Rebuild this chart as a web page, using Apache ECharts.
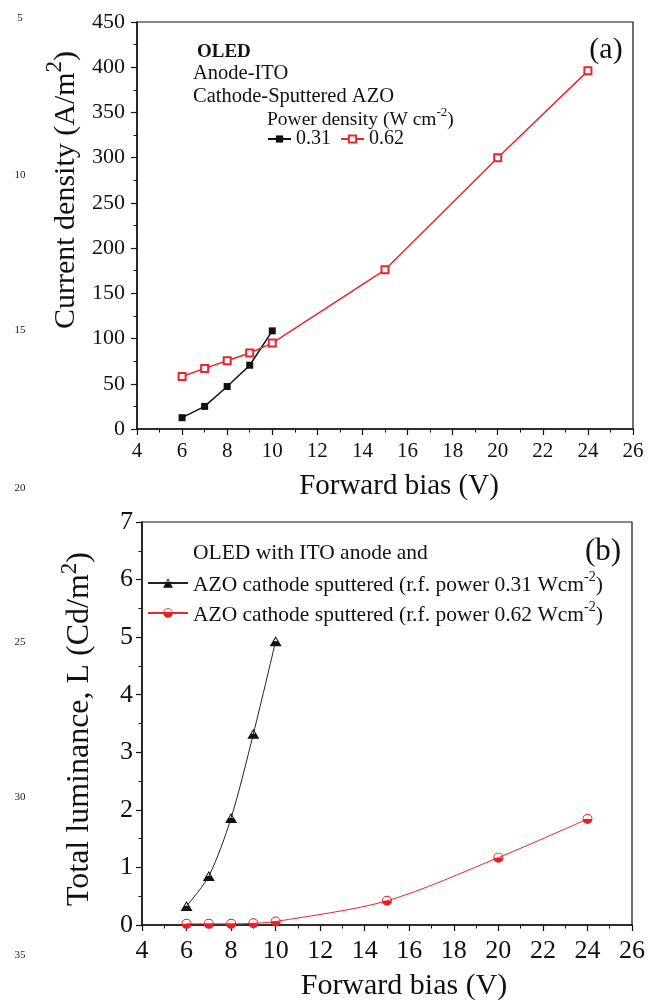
<!DOCTYPE html>
<html>
<head>
<meta charset="utf-8">
<script src="https://cdn.jsdelivr.net/npm/echarts@6/dist/echarts.min.js"></script>
<style>
  html, body { margin: 0; padding: 0; background: #ffffff; }
  #chart { width: 648px; height: 1003px; }
</style>
</head>
<body>
<div id="chart"></div>
<script>
// Forward bias (V) for each sample
const biasLow = [6, 7, 8, 9, 10];
const biasHigh = [6, 7, 8, 9, 10, 15, 20, 24];

// (a) current density, A/m^2
const currentLow = [12.5, 25, 47, 70.5, 108.5];
const currentHigh = [58, 67, 75.5, 84, 95, 176, 300, 396];

// (b) total luminance, Cd/m^2
const lumLow = [0.33, 0.85, 1.86, 3.32, 4.93];
const lumHigh = [0.02, 0.02, 0.02, 0.03, 0.06, 0.42, 1.17, 1.84];

// legend labels
const powerLabels = ['0.31', '0.62'];
const lumLabels = [
  'AZO cathode sputtered (r.f. power 0.31 Wcm-2)',
  'AZO cathode sputtered (r.f. power 0.62 Wcm-2)'
];

const zip = (xs, ys) => xs.map((x, i) => [x, ys[i]]);

const SERIF = '"Liberation Serif", "Times New Roman", serif';
const INK = '#111111';

// half-filled markers: outline with the lower half solid
const halfTriangle = 'path://M10,0 L20,18 L0,18 Z M10,3.6 L6.9,9 L13.1,9 Z';
const halfCircle = 'path://M0,10 A10,10 0 1,1 20,10 A10,10 0 1,1 0,10 Z M1.8,10 L18.2,10 A8.2,8.2 0 0,0 1.8,10 Z';

function xAxisCfg(gridIndex, fontSize, margin) {
  return {
    type: 'value', gridIndex, min: 4, max: 26, interval: 2,
    axisLine: { show: true, onZero: false, lineStyle: { color: INK, width: 1.5 } },
    axisTick: { show: true, inside: false, length: 6, lineStyle: { color: INK, width: 1.2 } },
    minorTick: { show: true, splitNumber: 2, length: 3.5, lineStyle: { color: INK, width: 1 } },
    axisLabel: { color: INK, fontFamily: SERIF, fontSize, margin },
    splitLine: { show: false }
  };
}
function yAxisCfg(gridIndex, max, interval, fontSize, margin) {
  return {
    type: 'value', gridIndex, min: 0, max, interval,
    axisLine: { show: true, lineStyle: { color: INK, width: 1.5 } },
    axisTick: { show: true, inside: false, length: 6, lineStyle: { color: INK, width: 1.2 } },
    minorTick: { show: true, splitNumber: 2, length: 3.5, lineStyle: { color: INK, width: 1 } },
    axisLabel: { color: INK, fontFamily: SERIF, fontSize, margin },
    splitLine: { show: false }
  };
}

const chart = echarts.init(document.getElementById('chart'), null, { renderer: 'canvas' });

const lineNumbers = [
  ['5', 18], ['10', 175], ['15', 330], ['20', 488], ['25', 642], ['30', 797], ['35', 955]
];

const graphics = [];
lineNumbers.forEach(([t, y]) => {
  graphics.push({
    type: 'text', x: 20, y,
    style: { text: t, font: '11px ' + SERIF, fill: '#222', textAlign: 'center', textVerticalAlign: 'middle' }
  });
});

// axis titles
graphics.push({
  type: 'text', x: 62, y: 190, rotation: Math.PI / 2,
  style: {
    text: '{t|Current density (A/m}{s|2}{t|)}',
    textAlign: 'center', textVerticalAlign: 'middle', fill: INK,
    rich: {
      t: { fontFamily: SERIF, fontSize: 30, lineHeight: 38, verticalAlign: 'bottom', fill: INK },
      s: { fontFamily: SERIF, fontSize: 23, lineHeight: 23, verticalAlign: 'top', fill: INK }
    }
  }
});
graphics.push({
  type: 'text', x: 399, y: 486,
  style: { text: 'Forward bias (V)', font: '29px ' + SERIF, fill: INK, textAlign: 'center', textVerticalAlign: 'middle' }
});
graphics.push({
  type: 'text', x: 77, y: 729, rotation: Math.PI / 2,
  style: {
    text: '{t|Total luminance, L (Cd/m}{s|2}{t|)}',
    textAlign: 'center', textVerticalAlign: 'middle', fill: INK,
    rich: {
      t: { fontFamily: SERIF, fontSize: 32, lineHeight: 38, verticalAlign: 'bottom', fill: INK },
      s: { fontFamily: SERIF, fontSize: 23, lineHeight: 23, verticalAlign: 'top', fill: INK }
    }
  }
});
graphics.push({
  type: 'text', x: 404, y: 986,
  style: { text: 'Forward bias (V)', font: '30px ' + SERIF, fill: INK, textAlign: 'center', textVerticalAlign: 'middle' }
});

// annotations inside panel (a)
graphics.push({ type: 'text', x: 197, y: 52,
  style: { text: 'OLED', font: 'bold 19px ' + SERIF, fill: INK, textVerticalAlign: 'middle' } });
graphics.push({ type: 'text', x: 193, y: 74,
  style: { text: 'Anode-ITO', font: '20.5px ' + SERIF, fill: INK, textVerticalAlign: 'middle' } });
graphics.push({ type: 'text', x: 193, y: 97,
  style: { text: 'Cathode-Sputtered AZO', font: '20.5px ' + SERIF, fill: INK, textVerticalAlign: 'middle' } });
graphics.push({ type: 'text', x: 267, y: 118,
  style: {
    text: '{t|Power density (W cm}{s|-2}{t|)}', textVerticalAlign: 'middle', fill: INK,
    rich: {
      t: { fontFamily: SERIF, fontSize: 19.5, lineHeight: 24, verticalAlign: 'bottom', fill: INK },
      s: { fontFamily: SERIF, fontSize: 13, lineHeight: 13, verticalAlign: 'top', fill: INK }
    }
  } });
graphics.push({ type: 'text', x: 606, y: 50,
  style: { text: '(a)', font: '30px ' + SERIF, fill: INK, textAlign: 'center', textVerticalAlign: 'middle' } });

// annotations inside panel (b)
graphics.push({ type: 'text', x: 193, y: 553,
  style: { text: 'OLED with ITO anode and', font: '21.5px ' + SERIF, fill: INK, textVerticalAlign: 'middle' } });
graphics.push({ type: 'text', x: 603, y: 552,
  style: { text: '(b)', font: '31px ' + SERIF, fill: INK, textAlign: 'center', textVerticalAlign: 'middle' } });

const option = {
  backgroundColor: '#ffffff',
  animation: false,
  grid: [
    { left: 137, top: 22, width: 496, height: 407, show: true, borderColor: INK, borderWidth: 1.2, backgroundColor: 'transparent' },
    { left: 142, top: 522, width: 492, height: 403, show: true, borderColor: INK, borderWidth: 1.2, backgroundColor: 'transparent' }
  ],
  xAxis: [xAxisCfg(0, 21, 12), xAxisCfg(1, 26, 13)],
  yAxis: [yAxisCfg(0, 450, 50, 22, 12), yAxisCfg(1, 7, 1, 26, 9)],
  legend: [
    {
      data: powerLabels,
      left: 267, top: 129, orient: 'horizontal', padding: 0,
      itemWidth: 23, itemHeight: 9, itemGap: 9,
      textStyle: { fontFamily: SERIF, fontSize: 20, color: INK }
    },
    {
      data: lumLabels,
      left: 147, top: 570, orient: 'vertical', padding: 0,
      itemWidth: 40, itemHeight: 12, itemGap: 4,
      formatter: (name) => {
        const [head] = name.split('-2)');
        return '{t|' + head + '}{s|-2}{t|)}';
      },
      textStyle: {
        fontFamily: SERIF, fontSize: 21.5, color: INK,
        rich: {
          t: { fontFamily: SERIF, fontSize: 21.5, lineHeight: 26, verticalAlign: 'bottom', color: INK },
          s: { fontFamily: SERIF, fontSize: 14, lineHeight: 14, verticalAlign: 'top', color: INK }
        }
      }
    }
  ],
  series: [
    {
      name: powerLabels[0], type: 'line', xAxisIndex: 0, yAxisIndex: 0,
      data: zip(biasLow, currentLow),
      symbol: 'rect', symbolSize: 7,
      lineStyle: { color: '#111111', width: 1.5 },
      itemStyle: { color: '#111111' }
    },
    {
      name: powerLabels[1], type: 'line', xAxisIndex: 0, yAxisIndex: 0,
      data: zip(biasHigh, currentHigh),
      symbol: 'emptyRect', symbolSize: 7,
      lineStyle: { color: '#e8262b', width: 1.5 },
      itemStyle: { color: '#e8262b', borderWidth: 1.3 }
    },
    {
      name: lumLabels[0], type: 'line', xAxisIndex: 1, yAxisIndex: 1,
      data: zip(biasLow, lumLow),
      smooth: 0.3,
      symbol: halfTriangle, symbolSize: [12, 10],
      lineStyle: { color: '#222222', width: 1 },
      itemStyle: { color: '#111111', borderWidth: 0 }
    },
    {
      name: lumLabels[1], type: 'line', xAxisIndex: 1, yAxisIndex: 1,
      data: zip(biasHigh, lumHigh),
      smooth: 0.3,
      symbol: halfCircle, symbolSize: [10, 10],
      lineStyle: { color: '#e8262b', width: 1 },
      itemStyle: { color: '#ee1c24', borderWidth: 0 }
    }
  ],
  graphic: { elements: graphics }
};

chart.setOption(option);
</script>
</body>
</html>
